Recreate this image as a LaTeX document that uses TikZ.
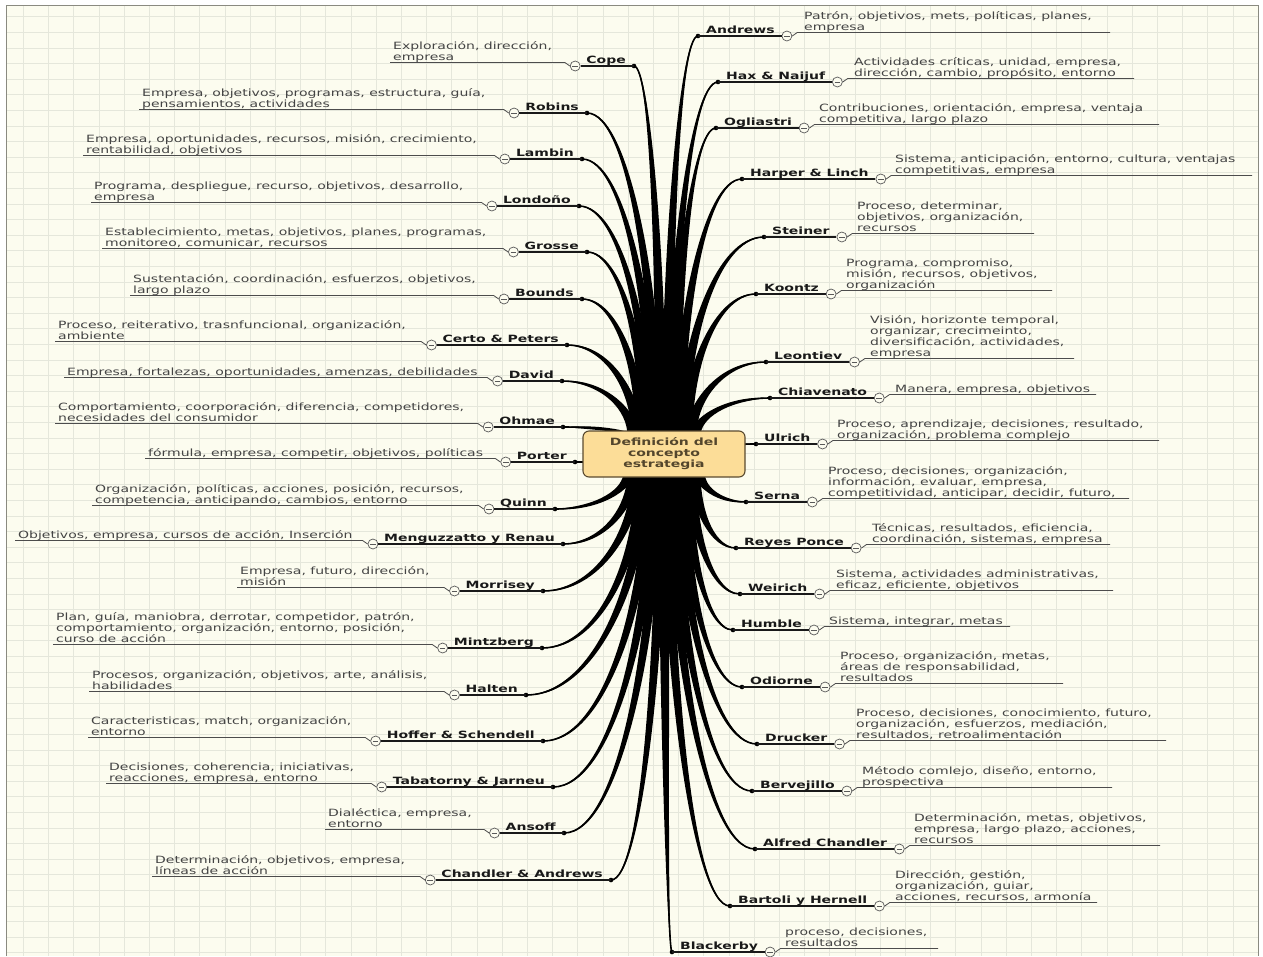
\documentclass[tikz,border=0pt]{standalone}
\usepackage{fontspec}
\setmainfont{DejaVu Sans}[FakeStretch=1.4]
\usetikzlibrary{calc,positioning}

\definecolor{papercol}{HTML}{FCFCEF}
\definecolor{gridcol}{HTML}{E5E7DB}
\definecolor{edgecol}{HTML}{8A8A80}
\definecolor{hubfill}{HTML}{FCDD98}
\definecolor{hubdraw}{HTML}{5A4B30}
\definecolor{hubink}{HTML}{54462C}
\definecolor{leafink}{HTML}{444444}

\newcommand\leaffont{\fontsize{10}{11}\selectfont}

% tapered branch: root, tip, root half width, middle half width
\newcommand\limb[4]{%
	\coordinate (limb-a) at ($(#1)!.45!(#1 |- #2)$);
	\coordinate (limb-b) at ($(#2)!.6!(#2 -| #1)$);
	\fill ($(#1)!#3!90:(limb-a)$)
		.. controls ($(limb-a)!#3!-90:(#1)$) and ($(limb-b)!#4!90:(#2)$) .. (#2)
		.. controls ($(limb-b)!#4!-90:(#2)$) and ($(limb-a)!#3!90:(#1)$) .. ($(#1)!#3!-90:(limb-a)$) -- cycle;
	\draw[line width=1.6pt] (#1) .. controls (limb-a) and (limb-b) .. (#2);
}

\tikzset{
	gridline/.style={gridcol, line width=0.8pt},
	leafname/.style={font=\leaffont\bfseries, text=black!90, inner sep=0pt},
	leaftext/.style={font=\leaffont, text=leafink, align=left, inner sep=0pt, anchor=base west},
	knob/.style={circle, draw=black!65, fill=papercol, line width=0.7pt, minimum size=10pt, inner sep=0pt,
		path picture={\draw[black!65, line width=0.7pt]
			([xshift=2.2pt]path picture bounding box.west) -- ([xshift=-2.2pt]path picture bounding box.east);}},
	stemline/.style={line width=1.2pt, black!90},
	twigline/.style={line width=0.8pt, black!70},
	hubbox/.style={rounded corners=6pt, fill=hubfill, draw=hubdraw, line width=1.1pt,
		minimum width=162pt, minimum height=46pt, align=center, font=\leaffont\bfseries, text=hubink},
}

% id/root dx/root dy/tip x/tip y/text x/name/text
\def\leftleaves{
	cope/-3/-18/634/66/393/Cope/{Exploración, dirección,\\empresa},
	robins/-7/-18/587/113/142/Robins/{Empresa, objetivos, programas, estructura, guía,\\pensamientos, actividades},
	lambin/-11/-18/582/159/86/Lambin/{Empresa, oportunidades, recursos, misión, crecimiento,\\rentabilidad, objetivos},
	londono/-15/-18/579/206/94/Londoño/{Programa, despliegue, recurso, objetivos, desarrollo,\\empresa},
	grosse/-19/-18/587/252/105/Grosse/{Establecimiento, metas, objetivos, planes, programas,\\monitoreo, comunicar, recursos},
	bounds/-23/-18/582/299/133/Bounds/{Sustentación, coordinación, esfuerzos, objetivos,\\largo plazo},
	certo/-27/-18/567/345/58/{Certo \& Peters}/{Proceso, reiterativo, trasnfuncional, organización,\\ambiente},
	david/-31/-18/562/381/67/David/{Empresa, fortalezas, oportunidades, amenzas, debilidades},
	ohmae/-35/-18/563/427/58/Ohmae/{Comportamiento, coorporación, diferencia, competidores,\\necesidades del consumidor},
	porter/-40/4/575/462/148/Porter/{fórmula, empresa, competir, objetivos, políticas},
	quinn/-35/18/555/509/95/Quinn/{Organización, políticas, acciones, posición, recursos,\\competencia, anticipando, cambios, entorno},
	menguzzatto/-31/18/563/544/18/{Menguzzatto y Renau}/{Objetivos, empresa, cursos de acción, Inserción},
	morrisey/-27/18/543/591/240/Morrisey/{Empresa, futuro, dirección,\\misión},
	mintzberg/-23/18/542/648/56/Mintzberg/{Plan, guía, maniobra, derrotar, competidor, patrón,\\comportamiento, organización, entorno, posición,\\curso de acción},
	halten/-19/18/526/695/92/Halten/{Procesos, organización, objetivos, arte, análisis,\\habilidades},
	hoffer/-15/18/543/741/91/{Hoffer \& Schendell}/{Caracteristicas, match, organización,\\entorno},
	tabatorny/-11/18/553/787/109/{Tabatorny \& Jarneu}/{Decisiones, coherencia, iniciativas,\\reacciones, empresa, entorno},
	ansoff/-7/18/564/833/328/Ansoff/{Dialéctica, empresa,\\entorno},
	chandandrews/-3/18/611/880/155/{Chandler \& Andrews}/{Determinación, objetivos, empresa,\\líneas de acción}%
}

% id/root dx/root dy/tip x/tip y/text x/line end/name/text
\def\rightleaves{
	andrews/3/-18/698/36/804/1110/Andrews/{Patrón, objetivos, mets, políticas, planes,\\empresa},
	hax/7/-18/718/82/854/1134/{Hax \& Naijuf}/{Actividades críticas, unidad, empresa,\\dirección, cambio, propósito, entorno},
	ogliastri/11/-18/716/128/819/1159/Ogliastri/{Contribuciones, orientación, empresa, ventaja\\competitiva, largo plazo},
	harper/15/-18/742/179/895/1252/{Harper \& Linch}/{Sistema, anticipación, entorno, cultura, ventajas\\competitivas, empresa},
	steiner/19/-18/764/237/857/1034/Steiner/{Proceso, determinar,\\objetivos, organización,\\recursos},
	koontz/23/-18/756/294/846/1052/Koontz/{Programa, compromiso,\\misión, recursos, objetivos,\\organización},
	leontiev/27/-18/766/362/870/1074/Leontiev/{Visión, horizonte temporal,\\organizar, crecimeinto,\\diversificación, actividades,\\empresa},
	chiavenato/31/-18/770/398/895/1096/Chiavenato/{Manera, empresa, objetivos},
	ulrich/40/-4/756/444/837/1159/Ulrich/{Proceso, aprendizaje, decisiones, resultado,\\organización, problema complejo},
	serna/35/18/746/502/828/1129/Serna/{Proceso, decisiones, organización,\\información, evaluar, empresa,\\competitividad, anticipar, decidir, futuro,},
	reyes/31/18/736/548/872/1110/{Reyes Ponce}/{Técnicas, resultados, eficiencia,\\coordinación, sistemas, empresa},
	weirich/27/18/740/594/836/1113/Weirich/{Sistema, actividades administrativas,\\eficaz, eficiente, objetivos},
	humble/23/18/733/630/829/1010/Humble/{Sistema, integrar, metas},
	odiorne/19/18/742/687/840/1063/Odiorne/{Proceso, organización, metas,\\áreas de responsabilidad,\\resultados},
	drucker/15/18/757/744/856/1166/Drucker/{Proceso, decisiones, conocimiento, futuro,\\organización, esfuerzos, mediación,\\resultados, retroalimentación},
	bervejillo/11/18/752/791/862/1112/Bervejillo/{Método comlejo, diseño, entorno,\\prospectiva},
	alfred/7/18/755/849/914/1160/{Alfred Chandler}/{Determinación, metas, objetivos,\\empresa, largo plazo, acciones,\\recursos},
	bartoli/3/18/730/906/895/1097/{Bartoli y Hernell}/{Dirección, gestión,\\organización, guiar,\\acciones, recursos, armonía},
	blackerby/0/18/672/952/785/938/Blackerby/{proceso, decisiones,\\resultados}%
}

\begin{document}
\begin{tikzpicture}[x=1pt,y=-1pt]

% canvas %{{{2

	\useasboundingbox (0,0) rectangle (1263,956);
	\fill[papercol] (6,5) rectangle (1258,956);
	\foreach \i in {0,...,48} { \draw[gridline] ({23.3+25.2*\i},5) -- ++(0,951); }
	\foreach \i in {0,...,60} { \draw[gridline] (6,{16.7+15.6*\i}) -- (1258,{16.7+15.6*\i}); }
	\draw[edgecol, line width=1pt] (6,956) -- (6,5) -- (1258,5) -- (1258,956);

% branches %{{{2

	\coordinate (hub) at (664,454);

	\foreach \id/\rx/\ry/\dx/\dy/\kx/\nm/\txt in \leftleaves {
		\coordinate (\id) at (\dx,\dy);
		\coordinate (\id-r) at ($(hub)+(\rx,\ry)$);
		\limb{\id-r}{\id}{5.5pt}{3.2pt}
	}
	\foreach \id/\rx/\ry/\dx/\dy/\kx/\ex/\nm/\txt in \rightleaves {
		\coordinate (\id) at (\dx,\dy);
		\coordinate (\id-r) at ($(hub)+(\rx,\ry)$);
		\limb{\id-r}{\id}{5.5pt}{3.2pt}
	}

% central topic %{{{2

	\node[hubbox] (topic) at (hub) {Definición del\\concepto\\estrategia};

% left labels %{{{2

	\foreach \id/\rx/\ry/\dx/\dy/\kx/\nm/\txt in \leftleaves {
		\fill (\id) circle (2.3);
		\node[leafname, base left=8pt of \id, yshift=3pt] (\id-n) {\nm};
		\node[knob] (\id-c) at ($(\id-n.west |- \id)+(-11,0)$) {};
		\node[leaftext] (\id-t) at (\kx,{\dy-5.5}) {\txt};
		\draw[stemline] (\id-c.east) -- (\id);
		\draw[twigline] (\id-c.west) -- ++(-5,-3.5) -- ({\kx-3},{\dy-3.5});
	}

% right labels %{{{2

	\foreach \id/\rx/\ry/\dx/\dy/\kx/\ex/\nm/\txt in \rightleaves {
		\fill (\id) circle (2.3);
		\node[leafname, base right=8pt of \id, yshift=3pt] (\id-n) {\nm};
		\node[knob] (\id-c) at ($(\id-n.east |- \id)+(12,0)$) {};
		\node[leaftext] (\id-t) at (\kx,{\dy-5.5}) {\txt};
		\draw[stemline] (\id-c.west) -- (\id);
		\draw[twigline] (\id-c.east) -- ++(5,-3.5) -- ({\ex},{\dy-3.5});
	}

% closing %{{{2

\end{tikzpicture}
\end{document}
